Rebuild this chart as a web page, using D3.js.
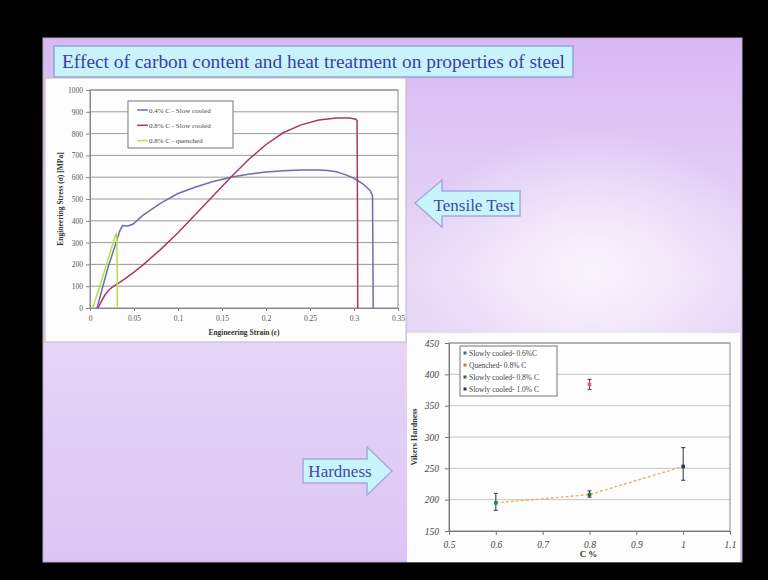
<!DOCTYPE html>
<html>
<head>
<meta charset="utf-8">
<script src="https://cdn.jsdelivr.net/npm/d3@7"></script>
<style>
  body { margin: 0; background: #000; }
  svg { display: block; }
</style>
</head>
<body>
<svg id="slide" width="768" height="580" viewBox="0 0 768 580"></svg>
<script>
// ---- tensile test data (strain, stress MPa) ----
const tensileNames = ["0.4% C - Slow cooled", "0.8% C - Slow cooled", "0.8% C - quenched"];
const slow04 = [[0.008, 0], [0.020, 180], [0.034, 355], [0.037, 378], [0.043, 376], [0.049, 385],
  [0.06, 425], [0.08, 480], [0.10, 525], [0.12, 555], [0.14, 580], [0.16, 600], [0.18, 614],
  [0.20, 624], [0.22, 630], [0.24, 633], [0.26, 633], [0.27, 631], [0.28, 625], [0.29, 612],
  [0.30, 595], [0.31, 570], [0.318, 540], [0.321, 515], [0.3215, 250], [0.3218, 0]];
const slow08 = [[0.009, 0], [0.013, 30], [0.017, 60], [0.022, 85], [0.027, 100], [0.032, 113],
  [0.04, 135], [0.05, 165], [0.06, 197], [0.08, 268], [0.10, 345], [0.12, 430], [0.14, 515],
  [0.16, 600], [0.18, 680], [0.20, 750], [0.22, 805], [0.24, 840], [0.26, 862], [0.28, 872],
  [0.295, 872], [0.302, 866], [0.3035, 860], [0.304, 400], [0.3042, 0]];
const quenched08 = [[0.003, 0], [0.012, 110], [0.021, 230], [0.029, 335], [0.030, 340],
  [0.0305, 320], [0.031, 150], [0.031, 0]];
const stressTicks = [0, 100, 200, 300, 400, 500, 600, 700, 800, 900, 1000];
const strainTicks = [0, 0.05, 0.1, 0.15, 0.2, 0.25, 0.3, 0.35];

// ---- hardness data ----
const hardnessNames = ["Slowly cooled- 0.6%C", "Quenched- 0.8% C", "Slowly cooled- 0.8% C", "Slowly cooled- 1.0% C"];
const carbonPct = [0.6, 0.8, 0.8, 1.0];
const hardness = [195, 384, 208, 253];
const errLow = [12, 8, 4, 22];
const errHigh = [15, 8, 6, 30];
const hardnessTicks = [150, 200, 250, 300, 350, 400, 450];
const carbonTicks = [0.5, 0.6, 0.7, 0.8, 0.9, 1, 1.1];

const svg = d3.select("#slide");
const serif = "'Liberation Serif', 'DejaVu Serif', serif";

// background gradients
const defs = svg.append("defs");
const bg = defs.append("linearGradient").attr("id", "bg").attr("x1", 0).attr("y1", 0).attr("x2", 0).attr("y2", 1);
bg.append("stop").attr("offset", "0%").attr("stop-color", "#d8b8f3");
bg.append("stop").attr("offset", "45%").attr("stop-color", "#e8daf7");
bg.append("stop").attr("offset", "100%").attr("stop-color", "#dcc5f4");
const glow = defs.append("radialGradient").attr("id", "glow")
  .attr("cx", 0.5).attr("cy", 0.5).attr("r", 0.5);
glow.append("stop").attr("offset", "0%").attr("stop-color", "#fbf6fb").attr("stop-opacity", 0.95);
glow.append("stop").attr("offset", "100%").attr("stop-color", "#fbf6fb").attr("stop-opacity", 0);
defs.append("clipPath").attr("id", "slideClip")
  .append("rect").attr("x", 43).attr("y", 38).attr("width", 699).attr("height", 524);

svg.append("rect").attr("width", 768).attr("height", 580).attr("fill", "#000");
svg.append("rect").attr("x", 43).attr("y", 38).attr("width", 699).attr("height", 524)
  .attr("fill", "url(#bg)");
svg.append("ellipse").attr("cx", 590).attr("cy", 270).attr("rx", 180).attr("ry", 140)
  .attr("fill", "url(#glow)").attr("clip-path", "url(#slideClip)");
svg.append("rect").attr("x", 43).attr("y", 38).attr("width", 699).attr("height", 524)
  .attr("fill", "none").attr("stroke", "#b8a8c8");

// title
svg.append("rect").attr("x", 54).attr("y", 46).attr("width", 519).attr("height", 31)
  .attr("fill", "#c9f3fb").attr("stroke", "#8fa6d8").attr("stroke-width", 1.5);
svg.append("text").attr("x", 62).attr("y", 68)
  .attr("font-family", serif).attr("font-size", 19).attr("fill", "#3b40a8")
  .attr("textLength", 503).attr("lengthAdjust", "spacingAndGlyphs")
  .text("Effect of carbon content and heat treatment on properties of steel");

// ---------- tensile chart ----------
svg.append("rect").attr("x", 45).attr("y", 78).attr("width", 361).attr("height", 264)
  .attr("fill", "#fdfdfd").attr("stroke", "#bbb");

const x1 = d3.scaleLinear().domain([0, 0.35]).range([90, 398]);
const y1 = d3.scaleLinear().domain([0, 1000]).range([308, 90]);
const g1 = svg.append("g");

g1.append("g").selectAll("line").data(stressTicks.slice(1)).join("line")
  .attr("x1", x1(0)).attr("x2", x1(0.35)).attr("y1", d => y1(d)).attr("y2", d => y1(d))
  .attr("stroke", "#9a9a9a").attr("stroke-width", 1);
g1.append("rect").attr("x", x1(0)).attr("y", y1(1000))
  .attr("width", x1(0.35) - x1(0)).attr("height", y1(0) - y1(1000))
  .attr("fill", "none").attr("stroke", "#888");

const ax1y = g1.append("g").attr("transform", `translate(${x1(0)},0)`)
  .call(d3.axisLeft(y1).tickValues(stressTicks).tickSize(4).tickPadding(3).tickFormat(d => d));
const ax1x = g1.append("g").attr("transform", `translate(0,${y1(0)})`)
  .call(d3.axisBottom(x1).tickValues(strainTicks).tickSize(3).tickPadding(5).tickFormat(d => d));
[ax1x, ax1y].forEach(a => {
  a.select(".domain").attr("stroke", "#888");
  a.selectAll(".tick line").attr("stroke", "#888");
  a.selectAll("text").attr("font-family", serif).attr("font-size", 7.5).attr("fill", "#555");
});

const line1 = d3.line().x(d => x1(d[0])).y(d => y1(d[1]));
const tensileColors = ["#6e6eae", "#a8386c", "#b6e046"];
[slow04, slow08, quenched08].forEach((s, i) => {
  g1.append("path").datum(s).attr("d", line1).attr("fill", "none")
    .attr("stroke", tensileColors[i]).attr("stroke-width", 1.5);
});

g1.append("text").attr("x", (x1(0) + x1(0.35)) / 2).attr("y", 335).attr("text-anchor", "middle")
  .attr("font-family", serif).attr("font-size", 7.5).attr("font-weight", "bold").attr("fill", "#333")
  .text("Engineering Strain (ε)");
g1.append("text").attr("transform", `translate(63,${(y1(0) + y1(1000)) / 2}) rotate(-90)`)
  .attr("text-anchor", "middle")
  .attr("font-family", serif).attr("font-size", 7.5).attr("font-weight", "bold").attr("fill", "#333")
  .text("Engineering Stress (σ) [MPa]");

const leg1 = g1.append("g");
leg1.append("rect").attr("x", 128).attr("y", 101).attr("width", 105).attr("height", 47)
  .attr("fill", "#fff").attr("stroke", "#777");
tensileNames.forEach((n, i) => {
  const yy = 110 + i * 15.3;
  leg1.append("line").attr("x1", 137).attr("x2", 148).attr("y1", yy).attr("y2", yy)
    .attr("stroke", tensileColors[i]).attr("stroke-width", 1.5);
  leg1.append("text").attr("x", 149).attr("y", yy + 2.5)
    .attr("font-family", serif).attr("font-size", 7).attr("fill", "#444").text(n);
});

// ---------- arrows ----------
svg.append("polygon")
  .attr("points", "415,203 442,180 442,191 520,191 520,216 442,216 442,227")
  .attr("fill", "#c8f4fb").attr("stroke", "#a8a8e0").attr("stroke-width", 1.5);
svg.append("text").attr("x", 474).attr("y", 211).attr("text-anchor", "middle")
  .attr("font-family", serif).attr("font-size", 17).attr("fill", "#4348a6").text("Tensile Test");

svg.append("polygon")
  .attr("points", "303,459 367,459 367,447 392,471 367,495 367,483 303,483")
  .attr("fill", "#c8f4fb").attr("stroke", "#a8a8e0").attr("stroke-width", 1.5);
svg.append("text").attr("x", 340).attr("y", 477).attr("text-anchor", "middle")
  .attr("font-family", serif).attr("font-size", 17).attr("fill", "#4348a6").text("Hardness");

// ---------- hardness chart ----------
svg.append("rect").attr("x", 407).attr("y", 333).attr("width", 333).attr("height", 229)
  .attr("fill", "#fdfdfd");

const x2 = d3.scaleLinear().domain([0.5, 1.1]).range([449, 730]);
const y2 = d3.scaleLinear().domain([150, 450]).range([531, 343]);
const g2 = svg.append("g");

g2.append("g").selectAll("line").data(hardnessTicks.slice(1)).join("line")
  .attr("x1", x2(0.5)).attr("x2", x2(1.1)).attr("y1", d => y2(d)).attr("y2", d => y2(d))
  .attr("stroke", "#c4c4c4");
g2.append("rect").attr("x", x2(0.5)).attr("y", y2(450))
  .attr("width", x2(1.1) - x2(0.5)).attr("height", y2(150) - y2(450))
  .attr("fill", "none").attr("stroke", "#888");

const ax2y = g2.append("g").attr("transform", `translate(${x2(0.5)},0)`)
  .call(d3.axisLeft(y2).tickValues(hardnessTicks).tickSize(4).tickPadding(6));
const ax2x = g2.append("g").attr("transform", `translate(0,${y2(150)})`)
  .call(d3.axisBottom(x2).tickValues(carbonTicks).tickSize(4).tickPadding(6).tickFormat(d => d));
[ax2x, ax2y].forEach(a => {
  a.select(".domain").attr("stroke", "#777");
  a.selectAll(".tick line").attr("stroke", "#777");
  a.selectAll("text").attr("font-family", serif).attr("font-size", 9.5)
    .attr("font-style", "italic").attr("fill", "#444");
});

g2.append("text").attr("x", (x2(0.5) + x2(1.1)) / 2 - 1).attr("y", 557).attr("text-anchor", "middle")
  .attr("font-family", serif).attr("font-size", 9).attr("font-weight", "bold").attr("fill", "#333")
  .text("C %");
g2.append("text").attr("transform", `translate(417,${(y2(150) + y2(450)) / 2}) rotate(-90)`)
  .attr("text-anchor", "middle")
  .attr("font-family", serif).attr("font-size", 8).attr("font-weight", "bold").attr("fill", "#333")
  .text("Vikers Hardness");

// trend line through slowly cooled points
const slowIdx = [0, 2, 3];
g2.append("path").datum(slowIdx)
  .attr("d", d3.line().x(i => x2(carbonPct[i])).y(i => y2(hardness[i])))
  .attr("fill", "none").attr("stroke", "#f2b25e").attr("stroke-width", 1.4)
  .attr("stroke-dasharray", "3,2");

const ptColors = ["#2a7d7d", "#e06262", "#2b6a4a", "#24346a"];
const pts = g2.append("g").selectAll("g").data(hardness.map((h, i) => i)).join("g");
pts.append("line")
  .attr("x1", i => x2(carbonPct[i])).attr("x2", i => x2(carbonPct[i]))
  .attr("y1", i => y2(hardness[i] + errHigh[i])).attr("y2", i => y2(hardness[i] - errLow[i]))
  .attr("stroke", i => i === 1 ? "#555" : "#333").attr("stroke-width", 1);
[errHigh, errLow].forEach((e, k) => {
  pts.append("line")
    .attr("x1", i => x2(carbonPct[i]) - 2).attr("x2", i => x2(carbonPct[i]) + 2)
    .attr("y1", i => y2(hardness[i] + (k === 0 ? e[i] : -e[i])))
    .attr("y2", i => y2(hardness[i] + (k === 0 ? e[i] : -e[i])))
    .attr("stroke", "#333");
});
pts.append("rect")
  .attr("x", i => x2(carbonPct[i]) - 1.8).attr("y", i => y2(hardness[i]) - 1.8)
  .attr("width", 3.6).attr("height", 3.6)
  .attr("fill", i => ptColors[i]);

const leg2 = g2.append("g");
leg2.append("rect").attr("x", 460).attr("y", 346).attr("width", 97).attr("height", 50)
  .attr("fill", "#fff").attr("stroke", "#777");
hardnessNames.forEach((n, i) => {
  const yy = 353 + i * 12;
  leg2.append("rect").attr("x", 463.5).attr("y", yy - 1.5).attr("width", 3).attr("height", 3)
    .attr("fill", ptColors[i]);
  leg2.append("text").attr("x", 469).attr("y", yy + 2.5)
    .attr("font-family", serif).attr("font-size", 7.5).attr("fill", "#444").text(n);
});
</script>
</body>
</html>
